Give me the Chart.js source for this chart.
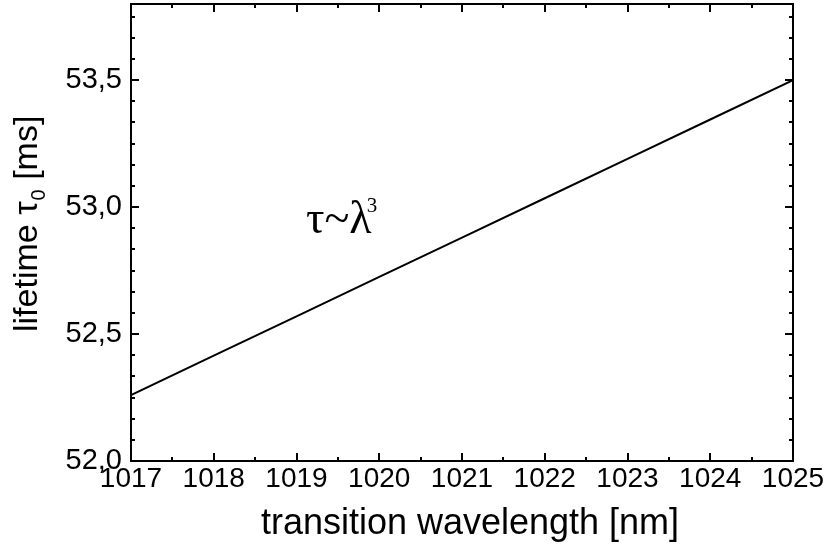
<!DOCTYPE html>
<html>
<head>
<meta charset="utf-8">
<script src="https://cdn.jsdelivr.net/npm/chart.js@4"></script>
<style>
	body { margin: 0; background: #fff; }
	canvas { display: block; }
</style>
</head>
<body>
<canvas id="chart" width="829" height="554"></canvas>
<script>
// values
const wavelength = [1017, 1018, 1019, 1020, 1021, 1022, 1023, 1024, 1025];
const lifetime = [52.26, 52.415, 52.57, 52.725, 52.88, 53.035, 53.19, 53.345, 53.5];
const xTicks = [1017, 1018, 1019, 1020, 1021, 1022, 1023, 1024, 1025];
const yTicks = [52.0, 52.5, 53.0, 53.5];
const xTitle = "transition wavelength [nm]";
const sansFont = "'Liberation Sans', Arial, sans-serif";
const serifFont = "'Liberation Serif', 'Times New Roman', serif";

// frame, inward ticks on all sides, titles and the τ~λ³ note
const framePlugin = {
	id: "frame",
	afterDraw(chart) {
		const ctx = chart.ctx;
		const a = chart.chartArea;
		const xs = chart.scales.x;
		const ys = chart.scales.y;
		ctx.save();
		ctx.strokeStyle = "#000";
		ctx.lineWidth = 2;
		ctx.strokeRect(a.left, a.top, a.right - a.left, a.bottom - a.top);

		ctx.beginPath();
		for (let v = xs.min; v <= xs.max + 1e-9; v += 0.5) {
			const px = Math.round(xs.getPixelForValue(v));
			const len = Number.isInteger(v) ? 8 : 4;
			ctx.moveTo(px, a.bottom); ctx.lineTo(px, a.bottom - len);
			ctx.moveTo(px, a.top); ctx.lineTo(px, a.top + len);
		}
		for (let i = 0; 52 + i / 12 <= ys.max + 1e-9; i++) {
			const v = 52 + i / 12;
			const py = Math.round(ys.getPixelForValue(v));
			const len = i % 6 == 0 ? 8 : 4;
			ctx.moveTo(a.left, py); ctx.lineTo(a.left + len, py);
			ctx.moveTo(a.right, py); ctx.lineTo(a.right - len, py);
		}
		ctx.stroke();

		ctx.fillStyle = "#000";
		// x title
		ctx.font = "36px " + sansFont;
		ctx.textAlign = "center";
		ctx.textBaseline = "alphabetic";
		ctx.fillText(xTitle, (a.left + a.right) / 2 + 8, 534);

		// y title with subscript
		ctx.save();
		ctx.translate(37, 332);
		ctx.rotate(-Math.PI / 2);
		ctx.textAlign = "left";
		ctx.font = "34px " + sansFont;
		let x = 0;
		ctx.fillText("lifetime ", x, 0);
		x += ctx.measureText("lifetime ").width;
		ctx.fillText("τ", x, 0);
		x += ctx.measureText("τ").width + 1;
		ctx.font = "20px " + sansFont;
		ctx.fillText("0", x, 8);
		x += ctx.measureText("0").width;
		ctx.font = "34px " + sansFont;
		ctx.fillText(" [ms]", x, 0);
		ctx.restore();

		// note
		ctx.textAlign = "left";
		ctx.font = "46px " + serifFont;
		ctx.fillText("τ~λ", 306, 233);
		const w = ctx.measureText("τ~λ").width;
		ctx.font = "21px " + serifFont;
		ctx.fillText("3", 306 + w - 5, 212);
		ctx.restore();
	},
};

new Chart(document.getElementById("chart"), {
	type: "line",
	data: {
		datasets: [
			{
				data: wavelength.map((w, i) => ({ x: w, y: lifetime[i] })),
				borderColor: "#000",
				borderWidth: 2,
				pointRadius: 0,
				tension: 0,
			},
		],
	},
	options: {
		responsive: false,
		animation: false,
		layout: { autoPadding: false, padding: { top: 4, right: 36, left: 0, bottom: 0 } },
		plugins: { legend: { display: false }, tooltip: { enabled: false } },
		scales: {
			x: {
				type: "linear",
				min: 1017,
				max: 1025,
				afterBuildTicks: (s) => { s.ticks = xTicks.map((v) => ({ value: v })); },
				afterFit: (s) => { s.height = 93; s.paddingLeft = 0; s.paddingRight = 0; },
				grid: { display: false, drawTicks: false },
				border: { display: false },
				ticks: {
					color: "#000",
					font: { size: 28, family: sansFont },
					padding: 1,
					maxRotation: 0,
					autoSkip: false,
					callback: (v) => String(v),
				},
			},
			y: {
				min: 52,
				max: 53.8,
				afterBuildTicks: (s) => { s.ticks = yTicks.map((v) => ({ value: v })); },
				afterFit: (s) => { s.width = 131; s.paddingTop = 0; s.paddingBottom = 0; },
				grid: { display: false, drawTicks: false },
				border: { display: false },
				ticks: {
					color: "#000",
					font: { size: 29, family: sansFont },
					padding: 9,
					callback: (v) => v.toFixed(1).replace(".", ","),
				},
			},
		},
	},
	plugins: [framePlugin],
});
</script>
</body>
</html>
